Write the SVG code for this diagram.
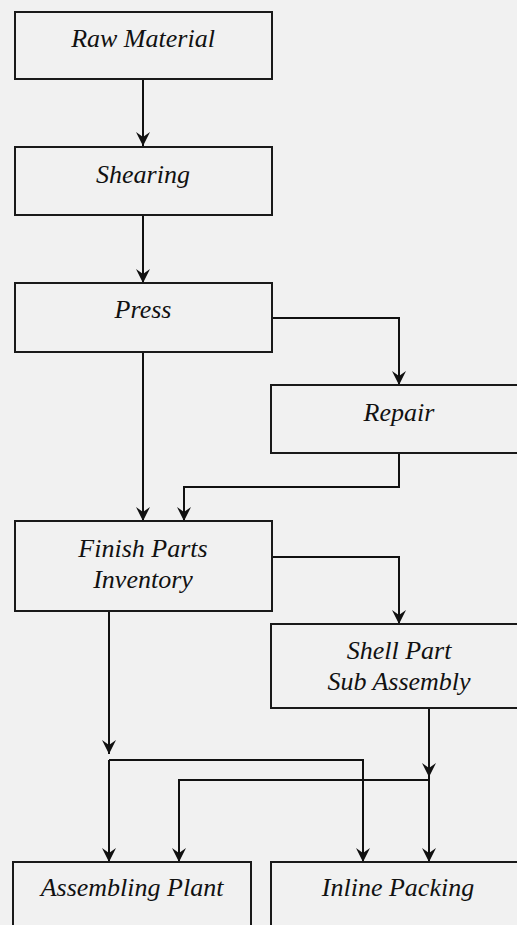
<svg xmlns="http://www.w3.org/2000/svg" width="517" height="925" viewBox="0 0 517 925">
<style>
.box{fill:none;stroke:#1a1a1a;stroke-width:2}
.lbl{font-family:'Liberation Serif','Times New Roman',Times,'DejaVu Serif',serif;font-style:italic;font-size:26px;fill:#111;text-anchor:middle}
.con{fill:none;stroke:#111;stroke-width:2;marker-end:url(#ah)}
</style>
<defs>
<marker id="ah" markerUnits="userSpaceOnUse" markerWidth="16" markerHeight="16" viewBox="0 -8 15 16" refX="14" refY="0" orient="auto">
<path d="M0,-7 L14,0 L0,7 L5,0 Z" fill="#111"/>
</marker>
</defs>
<rect width="517" height="925" fill="#f1f1f1"/>
<g id="connectors">
<path class="con" d="M143,79 V146"/>
<path class="con" d="M143,215 V283"/>
<path class="con" d="M272,318 H399 V385"/>
<path class="con" d="M143,352 V521"/>
<path class="con" d="M399,453 V487 H184 V521"/>
<path class="con" d="M272,557 H399 V624"/>
<path class="con" d="M109,611 V754"/>
<path class="con" d="M109,760 V862"/>
<path class="con" d="M109,760 H363 V862"/>
<path class="con" d="M429,708 V777"/>
<path class="con" d="M429,777 V862"/>
<path class="con" d="M429,780 H179 V862"/>
</g>
<g id="raw-material">
<rect class="box" x="15" y="12" width="257" height="67"/>
<text class="lbl" x="143" y="47">Raw Material</text>
</g>
<g id="shearing">
<rect class="box" x="15" y="147" width="257" height="68"/>
<text class="lbl" x="143" y="183">Shearing</text>
</g>
<g id="press">
<rect class="box" x="15" y="283" width="257" height="69"/>
<text class="lbl" x="143" y="318">Press</text>
</g>
<g id="repair">
<rect class="box" x="271" y="385" width="260" height="68"/>
<text class="lbl" x="399" y="421">Repair</text>
</g>
<g id="finish-parts-inventory">
<rect class="box" x="15" y="521" width="257" height="90"/>
<text class="lbl" x="143" y="557">Finish Parts</text>
<text class="lbl" x="143" y="588">Inventory</text>
</g>
<g id="shell-part-sub-assembly">
<rect class="box" x="271" y="624" width="260" height="84"/>
<text class="lbl" x="399" y="659">Shell Part</text>
<text class="lbl" x="399" y="690">Sub Assembly</text>
</g>
<g id="assembling-plant">
<rect class="box" x="13" y="862" width="238" height="80"/>
<text class="lbl" x="132" y="896">Assembling Plant</text>
</g>
<g id="inline-packing">
<rect class="box" x="271" y="862" width="260" height="80"/>
<text class="lbl" x="398" y="896">Inline Packing</text>
</g>
</svg>
